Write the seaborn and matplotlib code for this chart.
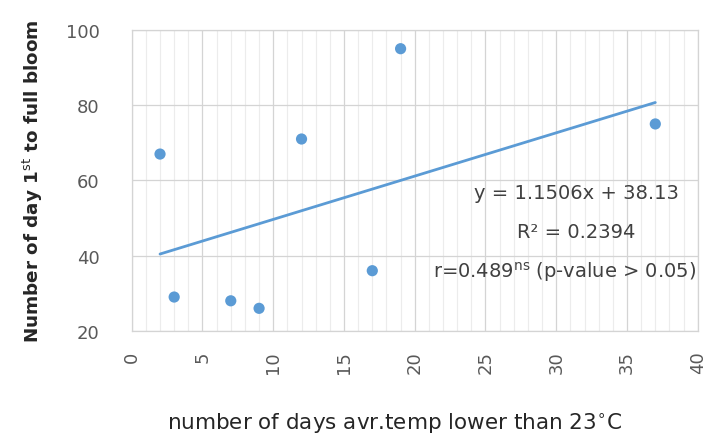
import matplotlib
matplotlib.use("Agg")
import matplotlib.pyplot as plt
import seaborn as sns
import numpy as np
import pandas as pd
from matplotlib.ticker import MultipleLocator

# Data
days_low_temp = [2, 3, 7, 9, 12, 17, 19, 37]
days_to_bloom = [67, 29, 28, 26, 71, 36, 95, 75]
x_ticks = [0, 5, 10, 15, 20, 25, 30, 35, 40]
y_ticks = [20, 40, 60, 80, 100]
eq_text = "y = 1.1506x + 38.13"
r2_text = "R² = 0.2394"
r_text = r"r=0.489$^{\mathrm{ns}}$ (p-value > 0.05)"

df = pd.DataFrame({"x": days_low_temp, "y": days_to_bloom})

sns.set_theme(style="white")
plt.rcParams["font.family"] = ["DejaVu Sans"]
plt.rcParams["mathtext.fontset"] = "dejavusans"

fig = plt.figure(figsize=(7.12, 4.35), dpi=100)
ax = fig.add_axes([0.185, 0.237, 0.795, 0.692])

blue = "#5B9BD5"
sns.regplot(data=df, x="x", y="y", ax=ax, ci=None, scatter=False,
            line_kws=dict(color=blue, lw=2))
sns.scatterplot(data=df, x="x", y="y", ax=ax, color=blue, s=65,
                edgecolor="none", zorder=3)

ax.set_xlim(0, 40)
ax.set_ylim(20, 100)
ax.set_xticks(x_ticks)
ax.set_yticks(y_ticks)
ax.xaxis.set_minor_locator(MultipleLocator(1))
ax.grid(which="major", axis="both", color="#d4d4d4", lw=0.9)
ax.grid(which="minor", axis="x", color="#ececec", lw=0.8)
ax.set_axisbelow(True)
for s in ax.spines.values():
    s.set_color("#d4d4d4")
    s.set_linewidth(0.9)
ax.tick_params(which="both", length=0, labelsize=13, colors="#595959")
ax.tick_params(axis="x", pad=14)
ax.tick_params(axis="y", pad=23)
for lbl in ax.get_xticklabels():
    lbl.set_rotation(90)

ax.set_xlabel("number of days avr.temp lower than 23$^{\\circ}$C",
              fontsize=15.5, color="#262626", labelpad=26)
ax.xaxis.set_label_coords(0.465, -0.265)
ax.set_ylabel(r"Number of day 1$^{\mathrm{st}}$ to full bloom", fontsize=13.2,
              fontweight="bold", color="#262626", labelpad=15)

ax.text(31.4, 56.9, eq_text, ha="center", va="center", fontsize=14, color="#404040")
ax.text(31.4, 46.5, r2_text, ha="center", va="center", fontsize=14, color="#404040")
ax.text(30.6, 35.9, r_text, ha="center", va="center", fontsize=14, color="#404040")

fig.savefig("out.png", dpi=100)
